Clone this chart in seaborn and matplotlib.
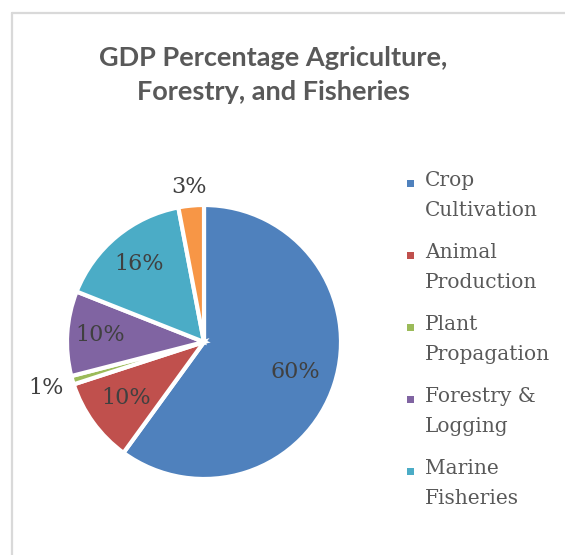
import matplotlib
matplotlib.use("Agg")
import matplotlib.pyplot as plt
import seaborn as sns
import numpy as np
from matplotlib.patches import Rectangle
from matplotlib.lines import Line2D

# ---- data ----
categories = ["Crop Cultivation", "Animal Production", "Plant Propagation",
              "Forestry & Logging", "Marine Fisheries", "Other"]
legend_labels = ["Crop\nCultivation", "Animal\nProduction", "Plant\nPropagation",
                 "Forestry &\nLogging", "Marine\nFisheries"]
values = [60, 10, 1, 10, 16, 3]
pct_labels = ["60%", "10%", "1%", "10%", "16%", "3%"]
colors = ["#4F81BD", "#C0504D", "#9BBB59", "#8064A2", "#4BACC6", "#F79646"]
title = "GDP Percentage Agriculture,\nForestry, and Fisheries"

sns.set_theme(style="white")
plt.rcParams['font.family'] = ['DejaVu Serif', 'DejaVu Sans']

W, H = 565, 555
fig = plt.figure(figsize=(W / 100, H / 100), dpi=100)
fig.patch.set_facecolor("white")

# chart-area border (partially visible)
fig.add_artist(Line2D([12 / W, 12 / W], [0, 1 - 13 / H], color="#d9d9d9", lw=1.6))
fig.add_artist(Line2D([12 / W, 1], [1 - 13 / H, 1 - 13 / H], color="#d9d9d9", lw=1.6))

# title
fig.text(273 / W, 1 - 75 / H, title, ha="center", va="center",
         fontsize=19.5, fontweight="bold", color="#595959",
         family=["Lato", "DejaVu Sans"], linespacing=1.45)

# pie
cx, cy, r = 204, 342, 137
ax = fig.add_axes([(cx - r) / W, (H - cy - r) / H, 2 * r / W, 2 * r / H])
wedges, _ = ax.pie(values, colors=colors, startangle=90, counterclock=False,
                   wedgeprops=dict(edgecolor="white", linewidth=3))
for w in wedges:
    w.set_clip_on(False)
ax.set_xlim(-1, 1)
ax.set_ylim(-1, 1)
ax.set_aspect("equal")
ax.axis("off")

label_dist = [0.70, 0.70, 1.20, 0.76, 0.74, 1.14]
for w, lab, d in zip(wedges, pct_labels, label_dist):
    ang = np.deg2rad((w.theta1 + w.theta2) / 2)
    ax.text(d * np.cos(ang), d * np.sin(ang), lab, ha="center", va="center",
            fontsize=16, color="#404040", clip_on=False)

# legend (manual, marker aligned with first line)
y0 = 183
step = 72
for i, (lab, col) in enumerate(zip(legend_labels, colors[:5])):
    yy = y0 + i * step
    fig.add_artist(Rectangle(((410 - 3.5) / W, 1 - (yy + 3.5) / H), 7 / W, 7 / H,
                             facecolor=col, edgecolor="none"))
    fig.text(425 / W, 1 - (yy - 12) / H, lab, ha="left", va="top",
             fontsize=14.5, color="#595959", linespacing=1.75)

fig.savefig("out.png", dpi=100)
